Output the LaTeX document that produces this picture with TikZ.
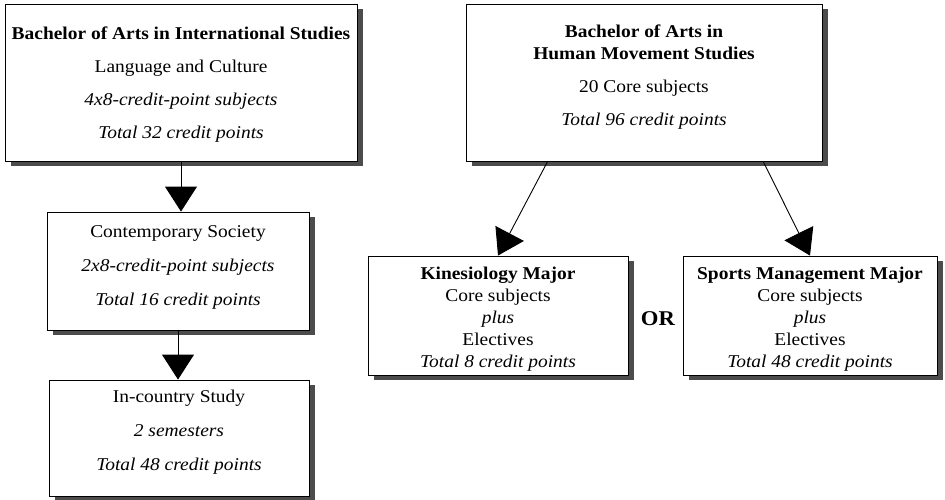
\documentclass[tikz,border=0pt]{standalone}
\usepackage{fontspec}
\setmainfont{Liberation Serif}[FakeStretch=1.08]
\usetikzlibrary{arrows.meta,shadows,calc}

\begin{document}
\begin{tikzpicture}[x=1pt,y=-1pt,
  box/.style={draw=black, line width=0.9pt, fill=white, inner sep=0pt,
    general shadow={fill=black!70, shadow xshift=6pt, shadow yshift=-5pt}},
  txt/.style={align=center, inner sep=0pt, font=\fontsize{18}{22}\selectfont},
  arr/.style={line width=0.9pt, -{Triangle[width=32pt,length=25pt]}},
  orlabel/.style={inner sep=0pt, font=\fontsize{21}{24}\selectfont\bfseries}
]
\useasboundingbox (0,0) rectangle (945,500);

% International Studies programme (left column)
\node[box, minimum width=352pt, minimum height=157pt] (intl) at (181,82.5) {};
\node[txt] (intl-t) at (181,85) {\textbf{Bachelor of Arts in International Studies}\\[11pt]
  Language and Culture\\[11pt]
  \textit{4x8-credit-point subjects}\\[11pt]
  \textit{Total 32 credit points}};

\node[box, minimum width=262pt, minimum height=118pt] (soc) at (178,271) {};
\node[txt] (soc-t) at (178,267) {Contemporary Society\\[12pt]
  \textit{2x8-credit-point subjects}\\[12pt]
  \textit{Total 16 credit points}};

\node[box, minimum width=260pt, minimum height=116pt] (ctry) at (179,438) {};
\node[txt] (ctry-t) at (179,432.5) {In-country Study\\[12pt]
  \textit{2 semesters}\\[12pt]
  \textit{Total 48 credit points}};

% Human Movement Studies programme (right side)
\node[box, minimum width=356pt, minimum height=157pt] (hms) at (644,82.5) {};
\node[txt] (hms-t) at (644,77.5) {\textbf{Bachelor of Arts in}\\
  \textbf{Human Movement Studies}\\[11pt]
  20 Core subjects\\[11pt]
  \textit{Total 96 credit points}};

\node[box, minimum width=260pt, minimum height=119pt] (kin) at (498,315.5) {};
\node[txt] (kin-t) at (498,319) {\textbf{Kinesiology Major}\\
  Core subjects\\
  \textit{plus}\\
  Electives\\
  \textit{Total 8 credit points}};

\node[box, minimum width=254pt, minimum height=119pt] (spm) at (810,315.5) {};
\node[txt] (spm-t) at (810,319) {\textbf{Sports Management Major}\\
  Core subjects\\
  \textit{plus}\\
  Electives\\
  \textit{Total 48 credit points}};

\node[orlabel] (or) at (658,318.5) {OR};

% connectors
\draw[arr] (intl.south) -- (intl.south |- soc.north);
\draw[arr] (soc.south) -- (soc.south |- ctry.north);
\coordinate (hms-l) at ($(hms.south west)!0.23!(hms.south east)$);
\coordinate (hms-r) at ($(hms.south west)!0.834!(hms.south east)$);
\draw[arr] (hms-l) -- (kin.north);
\draw[arr] (hms-r) -- (spm.north);
\end{tikzpicture}
\end{document}
